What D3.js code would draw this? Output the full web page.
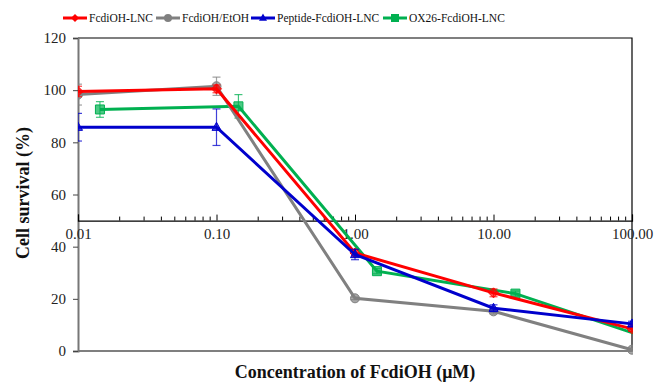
<!DOCTYPE html>
<html><head><meta charset="utf-8">
<script src="https://cdn.jsdelivr.net/npm/d3@7"></script>
<style>body{margin:0;background:#fff}svg{display:block}</style>
</head><body>
<svg id="c" width="654" height="384"></svg>
<script>
const seriesNames = ["FcdiOH-LNC","FcdiOH/EtOH","Peptide-FcdiOH-LNC","OX26-FcdiOH-LNC"];
const xConc = [0.01, 0.1, 1, 10, 100];
const xConcOX26 = [0.0144, 0.144, 1.44, 14.4, 144];
const lncVals = [99.5, 100.5, 37.6, 22.3, 8.5];
const lncErr  = [2, 1.5, 1.2, 1.5, 1];
const etohVals = [98.3, 101.5, 20.2, 15.2, 0.5];
const etohErr  = [4, 3.5, 0.5, 1, 0.5];
const pepVals = [85.8, 85.8, 37, 16.4, 10.4];
const pepErr  = [5.3, 7, 2, 1.3, 1];
const oxVals = [92.6, 93.8, 30.6, 22, 4.2];
const oxErr  = [3, 4.5, 1, 1, 1];
const yTicks = [0, 20, 40, 60, 80, 100, 120];
const xTicks = [0.01, 0.1, 1, 10, 100];

const colors = ["#ff0000", "#808080", "#0000cc", "#00b050"];
const markers = ["diamond", "circle", "triangle", "square"];

const W = 654, H = 384;
const m = {l: 78, r: 22, t: 38, b: 33};
const svg = d3.select("#c");
const x = d3.scaleLog().domain([0.01, 100]).range([m.l, W - m.r]);
const y = d3.scaleLinear().domain([0, 120]).range([H - m.b, m.t]);
const font = "Liberation Serif";

// frame: top, right, bottom
svg.append("path")
  .attr("d", `M${m.l},${y(120)}H${x(100)}V${y(0)}H${m.l}`)
  .attr("fill", "none").attr("stroke", "#000").attr("stroke-width", 1.2);

// y axis
const ya = svg.append("g").attr("transform", `translate(${m.l},0)`)
  .call(d3.axisLeft(y).tickValues(yTicks).tickSize(5).tickPadding(7).tickFormat(d3.format("d")));
ya.select(".domain").attr("stroke", "#777").attr("stroke-width", 2);
ya.selectAll(".tick line").attr("stroke", "#444");
ya.selectAll("text").attr("font-family", font).attr("font-size", 15).attr("fill", "#222");

// x axis at y=50, ticks upward
const xa = svg.append("g").attr("transform", `translate(0,${y(50)})`)
  .call(d3.axisBottom(x).tickValues(xTicks).tickSize(-6).tickPadding(8).tickFormat(d3.format(".2f")));
xa.select(".domain").attr("stroke", "#000").attr("stroke-width", 1.2);
xa.selectAll(".tick line").attr("stroke", "#000");
xa.selectAll("text").attr("font-family", font).attr("font-size", 15).attr("fill", "#222");
const minor = [];
for (let d = 0.01; d < 100; d *= 10) for (let k = 2; k <= 9; k++) minor.push(+(d * k).toPrecision(3));
xa.selectAll(".minor").data(minor).join("line")
  .attr("x1", d => x(d)).attr("x2", d => x(d)).attr("y1", 0).attr("y2", -4)
  .attr("stroke", "#000");

// clip
svg.append("clipPath").attr("id", "pc").append("rect")
  .attr("x", m.l).attr("y", m.t - 10).attr("width", x(100) - m.l + 1).attr("height", y(0) - m.t + 20);

function markerPath(type, size) {
  const s = size;
  if (type === "diamond") return `M0,${-s}L${s},0L0,${s}L${-s},0Z`;
  if (type === "circle") return d3.symbol(d3.symbolCircle, Math.PI * s * s)();
  if (type === "triangle") return `M0,${-s * 1.1}L${s},${s * 0.7}L${-s},${s * 0.7}Z`;
  return `M${-s},${-s}H${s}V${s}H${-s}Z`;
}

const series = [
  {xs: xConc, v: lncVals, e: lncErr},
  {xs: xConc, v: etohVals, e: etohErr},
  {xs: xConc, v: pepVals, e: pepErr},
  {xs: xConcOX26, v: oxVals, e: oxErr}
];
const order = [3, 1, 0, 2];
const plot = svg.append("g").attr("clip-path", "url(#pc)");
order.forEach(i => {
  const s = series[i];
  const pts = s.xs.map((d, j) => ({x: d, v: s.v[j], e: s.e[j]}));
  const g = plot.append("g");
  g.append("path").datum(pts)
    .attr("d", d3.line().x(d => x(d.x)).y(d => y(d.v)))
    .attr("fill", "none").attr("stroke", colors[i]).attr("stroke-width", 3);
  const inside = pts.filter(d => d.x <= 100);
  const eb = g.selectAll(".eb").data(inside).join("g").attr("stroke", colors[i]).attr("stroke-opacity", 0.75).attr("stroke-width", 1.2);
  eb.append("line").attr("x1", d => x(d.x)).attr("x2", d => x(d.x)).attr("y1", d => y(d.v - d.e)).attr("y2", d => y(d.v + d.e));
  eb.append("line").attr("x1", d => x(d.x) - 4).attr("x2", d => x(d.x) + 4).attr("y1", d => y(d.v - d.e)).attr("y2", d => y(d.v - d.e));
  eb.append("line").attr("x1", d => x(d.x) - 4).attr("x2", d => x(d.x) + 4).attr("y1", d => y(d.v + d.e)).attr("y2", d => y(d.v + d.e));
  g.selectAll(".mk").data(inside).join("path")
    .attr("transform", d => `translate(${x(d.x)},${y(d.v)})`)
    .attr("d", markerPath(markers[i], i === 0 ? 5 : 4.5))
    .attr("fill", colors[i]).attr("fill-opacity", 0.7)
    .attr("stroke", colors[i]).attr("stroke-width", 1);
});

// legend
const legX = [63, 156, 251, 383];
const lg = svg.append("g");
seriesNames.forEach((n, i) => {
  const g = lg.append("g").attr("transform", `translate(${legX[i]},18)`);
  g.append("line").attr("x1", 0).attr("x2", 24).attr("stroke", colors[i]).attr("stroke-width", 3);
  g.append("path").attr("transform", "translate(12,0)").attr("d", markerPath(markers[i], 4)).attr("fill", colors[i]);
  g.append("text").attr("x", 26).attr("y", 4).attr("font-family", font).attr("font-size", 11.5).attr("fill", "#111").text(n);
});

// titles
svg.append("text").attr("x", (m.l + x(100)) / 2).attr("y", 378).attr("text-anchor", "middle")
  .attr("font-family", font).attr("font-size", 18).attr("font-weight", "bold").attr("fill", "#111")
  .text("Concentration of FcdiOH (μM)");
svg.append("text").attr("transform", "translate(29,193) rotate(-90)").attr("text-anchor", "middle")
  .attr("font-family", font).attr("font-size", 18).attr("font-weight", "bold").attr("fill", "#111")
  .text("Cell survival (%)");
</script>
</body></html>
